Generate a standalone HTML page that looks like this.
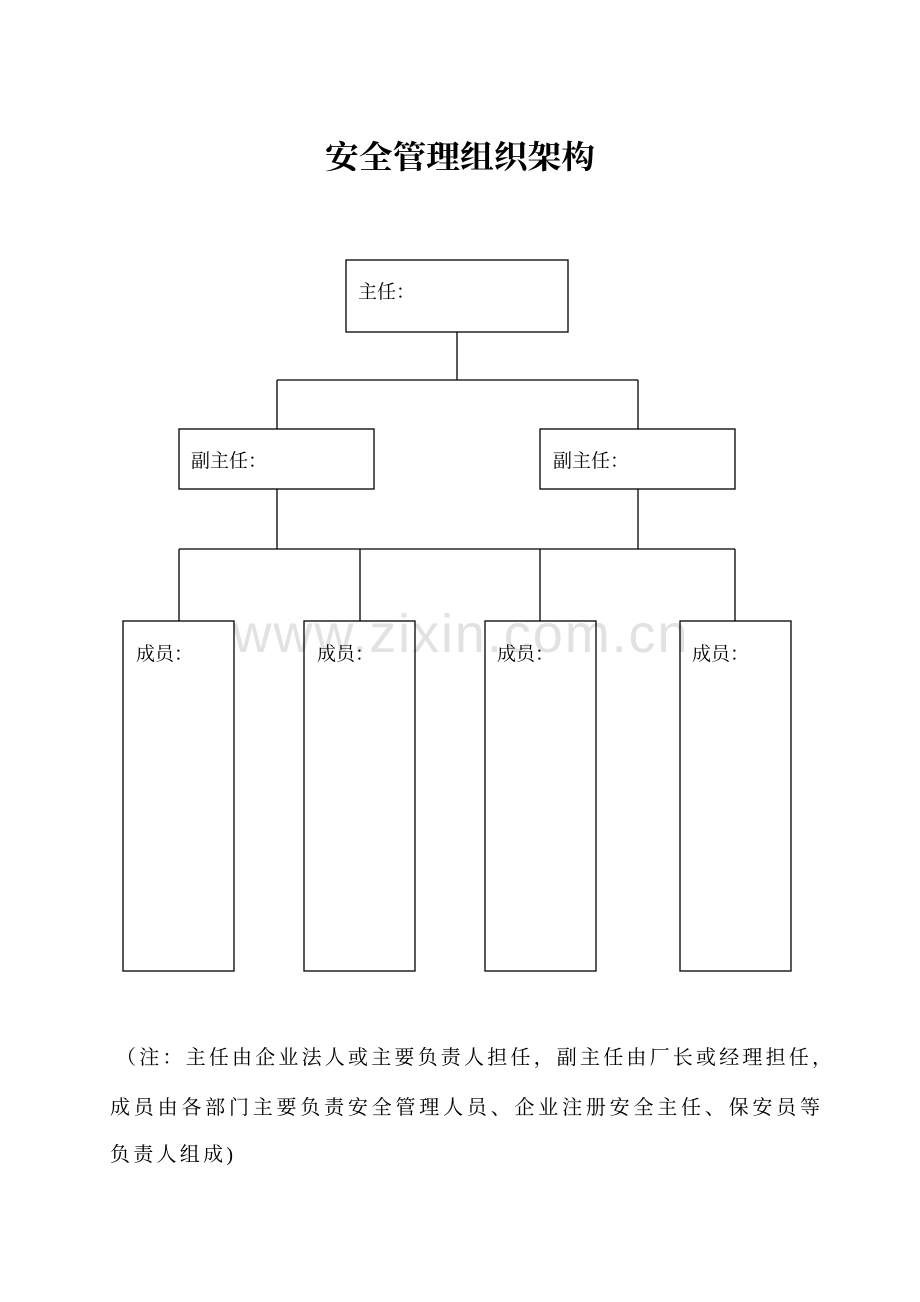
<!DOCTYPE html>
<html><head><meta charset="utf-8"><style>
html,body{margin:0;padding:0;background:#fff;}
svg{display:block;}
text{font-family:"Liberation Serif","Noto Serif CJK SC","Noto Sans CJK SC",serif;fill:#000;}
.c{font-family:"Noto Serif CJK SC","Noto Sans CJK SC",serif;}
</style></head><body>
<svg width="920" height="1302" viewBox="0 0 920 1302" xmlns="http://www.w3.org/2000/svg">
<text x="325" y="168" font-size="32" font-weight="bold" textLength="270" lengthAdjust="spacingAndGlyphs">安全管理组织架构</text>
<text x="460" y="652" font-size="54" text-anchor="middle" style="font-family:'Liberation Sans',sans-serif;fill:#e2e2e2" textLength="455">www.zixin.com.cn</text>
<g fill="none" stroke="#000" stroke-width="1.3">
<rect x="346" y="260" width="222" height="72"/>
<line x1="457" y1="332" x2="457" y2="380"/>
<line x1="277" y1="380" x2="638" y2="380"/>
<line x1="277" y1="380" x2="277" y2="429"/>
<line x1="638" y1="380" x2="638" y2="429"/>
<rect x="179" y="429" width="195" height="60"/>
<rect x="540" y="429" width="195" height="60"/>
<line x1="277" y1="489" x2="277" y2="549"/>
<line x1="638" y1="489" x2="638" y2="549"/>
<line x1="179" y1="549" x2="735" y2="549"/>
<line x1="179" y1="549" x2="179" y2="621"/>
<line x1="360" y1="549" x2="360" y2="621"/>
<line x1="540" y1="549" x2="540" y2="621"/>
<line x1="735" y1="549" x2="735" y2="621"/>
<rect x="123" y="621" width="111" height="350"/>
<rect x="304" y="621" width="111" height="350"/>
<rect x="485" y="621" width="111" height="350"/>
<rect x="680" y="621" width="111" height="350"/>
</g>
<text class="c" x="358" y="298" font-size="19">主任：</text>
<text class="c" x="191" y="467" font-size="19">副主任：</text>
<text class="c" x="553" y="467" font-size="19">副主任：</text>
<text class="c" x="136" y="660" font-size="19">成员：</text>
<text class="c" x="317" y="660" font-size="19">成员：</text>
<text class="c" x="497" y="660" font-size="19">成员：</text>
<text class="c" x="692" y="660" font-size="19">成员：</text>
<text x="116" y="1064" font-size="20" textLength="716" lengthAdjust="spacing">（注：主任由企业法人或主要负责人担任，副主任由厂长或经理担任，</text>
<text x="110" y="1114" font-size="20" textLength="710" lengthAdjust="spacing">成员由各部门主要负责安全管理人员、企业注册安全主任、保安员等</text>
<text x="110" y="1161" font-size="20" textLength="123" lengthAdjust="spacing">负责人组成)</text>
</svg>
</body></html>
